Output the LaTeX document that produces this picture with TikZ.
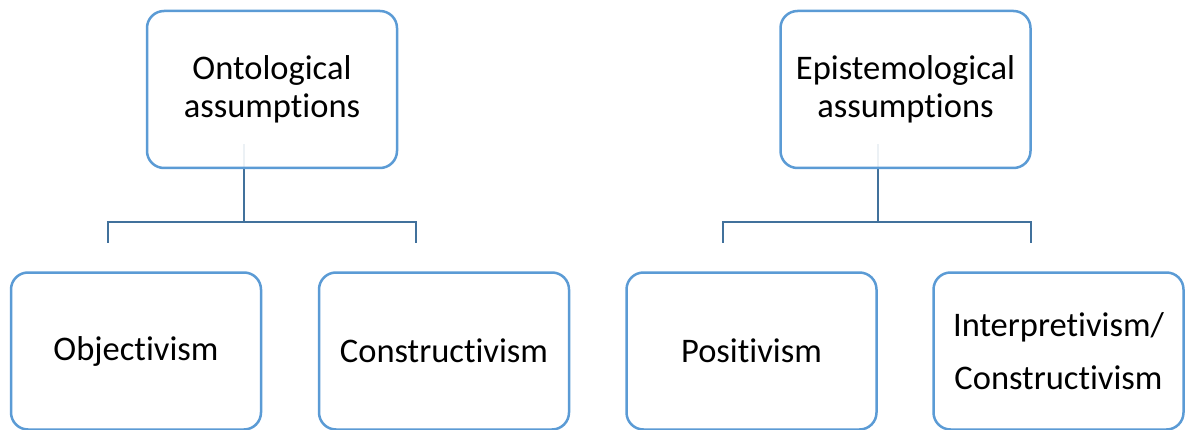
\documentclass[tikz,border=0pt]{standalone}
\usepackage{fontspec}
\setmainfont{Carlito}[Ligatures={NoCommon,NoContextual}]
\usepackage{xcolor}
\usepackage{tikz}
\usetikzlibrary{positioning, backgrounds}

\definecolor{boxblue}{RGB}{91,155,213}
\definecolor{linkblue}{RGB}{65,113,156}

\tikzset{
  assumbox/.style={draw=boxblue, line width=2.5pt, fill=white, fill opacity=0.9,
    text opacity=1, rounded corners=17pt, minimum width=250pt, minimum height=157pt,
    inner sep=0pt, outer sep=0pt, align=center, font=\fontsize{34.5}{38}\selectfont},
  link/.style={draw=linkblue, line width=2.5pt}
}

\begin{document}
\begin{tikzpicture}[x=1pt, y=-1pt]
  \useasboundingbox (0,0) rectangle (1185,430);

  % top level
  \node[assumbox] (onto) at (272,89.5) {Ontological\\assumptions};
  \node[assumbox] (epist) at (905.5,89.5) {Epistemological\\assumptions};

  % bottom level
  \node[assumbox] (objv) at (136,351) {Objectivism};
  \node[assumbox] (constr) at (444,351) {Constructivism};
  \node[assumbox] (posit) at (751.5,351) {Positivism};
  \node[assumbox, font=\fontsize{34.5}{53}\selectfont] (interp) at (1058.5,351) {Interpretivism/\\Constructivism};

  % connector ends
  \coordinate (ontoTop) at (244,144);
  \coordinate (ontoHub) at (244,222);
  \coordinate (objvEnd) at (108,243);
  \coordinate (constrEnd) at (416,243);
  \coordinate (epistTop) at (878,144);
  \coordinate (epistHub) at (878,222);
  \coordinate (positEnd) at (723,243);
  \coordinate (interpEnd) at (1031,243);

  \begin{pgfonlayer}{background}
    \draw[link] (ontoTop) -- (ontoHub) -| (objvEnd);
    \draw[link] (ontoHub) -| (constrEnd);
    \draw[link] (epistTop) -- (epistHub) -| (positEnd);
    \draw[link] (epistHub) -| (interpEnd);
  \end{pgfonlayer}
\end{tikzpicture}
\end{document}
